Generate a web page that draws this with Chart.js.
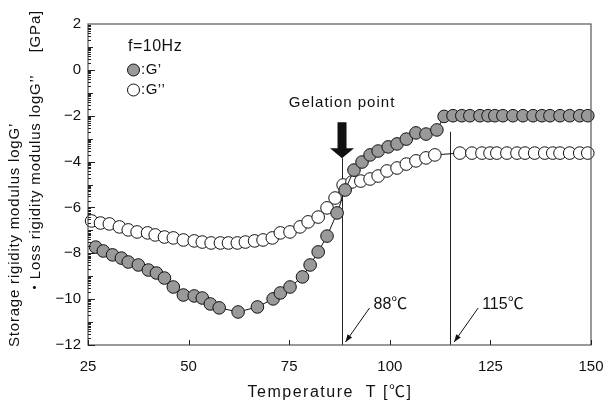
<!DOCTYPE html>
<html>
<head>
<meta charset="utf-8">
<script src="https://cdn.jsdelivr.net/npm/chart.js@4.4.0/dist/chart.umd.min.js"></script>
<style>
  html, body { margin: 0; padding: 0; background: #fff; }
</style>
</head>
<body>
<canvas id="myChart" width="608" height="405"></canvas>
<script>
// storage modulus G' (filled markers)
const tempStorage = [26.9, 28.8, 31.1, 33.3, 35.0, 37.5, 40.0, 42.0, 44.0, 46.2, 48.7, 51.4, 53.4, 55.4, 57.6,
  62.3, 67.1, 71.0, 72.8, 75.2, 78.3, 80.2, 82.2, 84.4, 86.9, 88.9, 91.1, 93.1, 95.1, 97.1, 99.6, 101.8,
  104.1, 106.5, 109.0, 111.7, 113.5, 115.7, 117.9, 119.9, 122.4, 124.4, 126.1, 128.1, 130.6, 133.1, 135.6,
  137.8, 139.8, 142.3, 144.7, 147.2, 149.2];
const logStorage = [-7.73, -7.90, -8.07, -8.21, -8.38, -8.51, -8.73, -8.86, -9.08, -9.47, -9.82, -9.86, -9.95, -10.21, -10.38,
  -10.56, -10.34, -9.99, -9.73, -9.47, -9.03, -8.51, -7.94, -7.25, -6.24, -5.24, -4.37, -4.02, -3.71, -3.54, -3.36, -3.23,
  -3.02, -2.75, -2.80, -2.62, -2.03, -2.0, -2.0, -2.0, -2.0, -2.0, -2.0, -2.0, -2.0, -2.0, -2.0,
  -2.0, -2.0, -2.0, -2.0, -2.0, -2.0];

// loss modulus G'' (open markers)
const tempLoss = [25.9, 28.1, 30.3, 32.8, 35.0, 37.2, 39.8, 41.7, 44.0, 46.2, 48.7, 51.4, 53.4, 55.6, 57.9,
  59.9, 62.1, 64.1, 66.4, 68.5, 70.8, 72.8, 75.2, 77.7, 79.7, 82.2, 84.4, 86.4, 88.4, 90.6, 92.8, 95.1,
  97.1, 99.3, 101.8, 104.1, 106.5, 109.0, 111.2, 117.4, 120.4, 122.9, 124.9, 126.6, 129.1, 131.6, 133.6,
  136.0, 138.5, 140.5, 142.3, 144.7, 147.2, 149.2];
const logLoss = [-6.59, -6.68, -6.72, -6.85, -6.98, -7.07, -7.11, -7.20, -7.29, -7.33, -7.42, -7.46, -7.51, -7.55, -7.55,
  -7.55, -7.55, -7.51, -7.46, -7.42, -7.33, -7.11, -7.07, -6.85, -6.63, -6.42, -6.02, -5.59, -5.02, -4.89, -4.85, -4.76,
  -4.63, -4.41, -4.28, -4.11, -3.97, -3.84, -3.71, -3.63, -3.63, -3.63, -3.63, -3.63, -3.63, -3.63, -3.63,
  -3.63, -3.63, -3.63, -3.63, -3.63, -3.63, -3.63];

const markerTemps = [88, 115];
const markerLabels = ['88℃', '115℃'];
const markerTops = [-3.85, -2.7];

const FONT = "'Liberation Sans', 'Noto Sans CJK JP', sans-serif";
const INK = '#111';
const GREY = '#999';

function pts(xs, ys) {
  return xs.map((t, i) => ({ x: t, y: ys[i] }));
}

// frame, inward ticks, legend and annotations
const decor = {
  id: 'decor',
  beforeDatasetsDraw(chart) {
    const { ctx, chartArea: a, scales: { x, y } } = chart;
    ctx.save();
    ctx.strokeStyle = '#222';
    ctx.lineWidth = 1;
    markerTemps.forEach((t, i) => {
      const px = Math.round(x.getPixelForValue(t)) + 0.5;
      ctx.beginPath();
      ctx.moveTo(px, y.getPixelForValue(markerTops[i]));
      ctx.lineTo(px, a.bottom);
      ctx.stroke();
    });
    ctx.restore();
  },
  afterDatasetsDraw(chart) {
    const { ctx, chartArea: a, scales: { x, y } } = chart;
    ctx.save();

    // box
    ctx.strokeStyle = '#555';
    ctx.lineWidth = 1.2;
    ctx.strokeRect(a.left, a.top, a.right - a.left, a.bottom - a.top);

    // y ticks, log spaced inside each decade
    ctx.strokeStyle = '#222';
    ctx.lineWidth = 1;
    ctx.beginPath();
    for (let k = y.min; k < y.max; k++) {
      for (let m = 1; m < 10; m++) {
        const py = Math.round(y.getPixelForValue(k + Math.log10(m))) + 0.5;
        const len = m === 1 ? (k % 2 === 0 ? 7 : 5) : 3;
        ctx.moveTo(a.left, py);
        ctx.lineTo(a.left + len, py);
      }
    }
    // x ticks
    x.ticks.forEach(t => {
      const px = Math.round(x.getPixelForValue(t.value)) + 0.5;
      ctx.moveTo(px, a.bottom);
      ctx.lineTo(px, a.bottom - 5);
    });
    ctx.stroke();

    // legend
    ctx.fillStyle = INK;
    ctx.font = '16px ' + FONT;
    ctx.textBaseline = 'middle';
    ctx.textAlign = 'left';
    ctx.letterSpacing = '0.5px';
    ctx.fillText('f=10Hz', a.left + 40, a.top + 23);
    ctx.font = '15px ' + FONT;
    [[GREY, ':G’', 46], ['#fff', ':G’’', 66]].forEach(([fill, txt, dy]) => {
      ctx.beginPath();
      ctx.arc(a.left + 45.5, a.top + dy, 6, 0, Math.PI * 2);
      ctx.fillStyle = fill;
      ctx.fill();
      ctx.strokeStyle = INK;
      ctx.stroke();
      ctx.fillStyle = INK;
      ctx.fillText(txt, a.left + 53, a.top + dy);
    });

    // gelation point arrow
    const gx = x.getPixelForValue(markerTemps[0]) + 0.5;
    const tip = y.getPixelForValue(markerTops[0]);
    ctx.fillStyle = INK;
    ctx.beginPath();
    ctx.moveTo(gx - 4.5, tip - 36);
    ctx.lineTo(gx + 4.5, tip - 36);
    ctx.lineTo(gx + 4.5, tip - 10);
    ctx.lineTo(gx + 12, tip - 10);
    ctx.lineTo(gx, tip);
    ctx.lineTo(gx - 12, tip - 10);
    ctx.lineTo(gx - 4.5, tip - 10);
    ctx.closePath();
    ctx.fill();
    ctx.font = '15px ' + FONT;
    ctx.letterSpacing = '1px';
    ctx.textAlign = 'center';
    ctx.fillText('Gelation point', gx, tip - 55);

    // temperature call-outs
    markerTemps.forEach((t, i) => {
      const px = x.getPixelForValue(t);
      const x0 = px + 4, y0 = a.bottom - 3;
      const x1 = px + 28, y1 = a.bottom - 37;
      ctx.strokeStyle = INK;
      ctx.lineWidth = 1;
      ctx.beginPath();
      ctx.moveTo(x1, y1);
      ctx.lineTo(x0, y0);
      ctx.stroke();
      const ang = Math.atan2(y0 - y1, x0 - x1);
      ctx.beginPath();
      ctx.moveTo(x0, y0);
      ctx.lineTo(x0 - 8 * Math.cos(ang - 0.35), y0 - 8 * Math.sin(ang - 0.35));
      ctx.lineTo(x0 - 8 * Math.cos(ang + 0.35), y0 - 8 * Math.sin(ang + 0.35));
      ctx.closePath();
      ctx.fill();
      ctx.font = '16px ' + FONT;
      ctx.letterSpacing = '0px';
      ctx.textAlign = 'left';
      ctx.fillText(markerLabels[i], px + 32, a.bottom - 40);
    });

    // axis titles
    ctx.font = '16px ' + FONT;
    ctx.letterSpacing = '1.5px';
    ctx.textAlign = 'center';
    ctx.fillText('Temperature  T [℃]', 330, 393);

    ctx.font = '15px ' + FONT;
    ctx.letterSpacing = '0.8px';
    ctx.translate(15, 0);
    ctx.rotate(-Math.PI / 2);
    ctx.textAlign = 'left';
    ctx.fillText('Storage rigidity modulus logG’', -347, 0);
    ctx.translate(0, 21);
    ctx.fillText('・Loss rigidity modulus logG’’', -295, 0);
    ctx.textAlign = 'right';
    ctx.fillText('[GPa]', -10, 0);
    ctx.restore();
  }
};

const ctx = document.getElementById('myChart').getContext('2d');

const chart1 = new Chart(ctx, {
  type: 'scatter',
  data: {
    datasets: [
      {
        label: 'G’',
        data: pts(tempStorage, logStorage),
        showLine: true,
        borderColor: INK,
        borderWidth: 1,
        pointRadius: 6.3,
        pointBackgroundColor: GREY,
        pointBorderColor: INK,
        pointBorderWidth: 1,
        clip: false
      },
      {
        label: 'G’’',
        data: pts(tempLoss, logLoss),
        showLine: true,
        borderColor: INK,
        borderWidth: 1,
        pointRadius: 6.3,
        pointBackgroundColor: '#fff',
        pointBorderColor: INK,
        pointBorderWidth: 1,
        clip: false
      }
    ]
  },
  options: {
    responsive: false,
    animation: false,
    layout: { padding: { top: 24, right: 17, left: 0, bottom: 0 } },
    plugins: {
      legend: { display: false },
      tooltip: { enabled: false }
    },
    scales: {
      x: {
        type: 'linear',
        min: 25,
        max: 150,
        grid: { display: false, drawTicks: false },
        border: { display: false },
        ticks: {
          stepSize: 25,
          padding: 13,
          color: INK,
          font: { family: FONT, size: 15 }
        },
        afterFit(s) {
          s.height = 60;
          s.paddingLeft = 0;
          s.paddingRight = 0;
        }
      },
      y: {
        min: -12,
        max: 2,
        grid: { display: false, drawTicks: false },
        border: { display: false },
        ticks: {
          stepSize: 2,
          padding: 7,
          color: INK,
          font: { family: FONT, size: 15 },
          callback: v => (v < 0 ? '−' + Math.abs(v) : String(v))
        },
        afterFit(s) {
          s.width = 88;
          s.paddingTop = 0;
          s.paddingBottom = 0;
        }
      }
    }
  },
  plugins: [decor]
});
</script>
</body>
</html>
